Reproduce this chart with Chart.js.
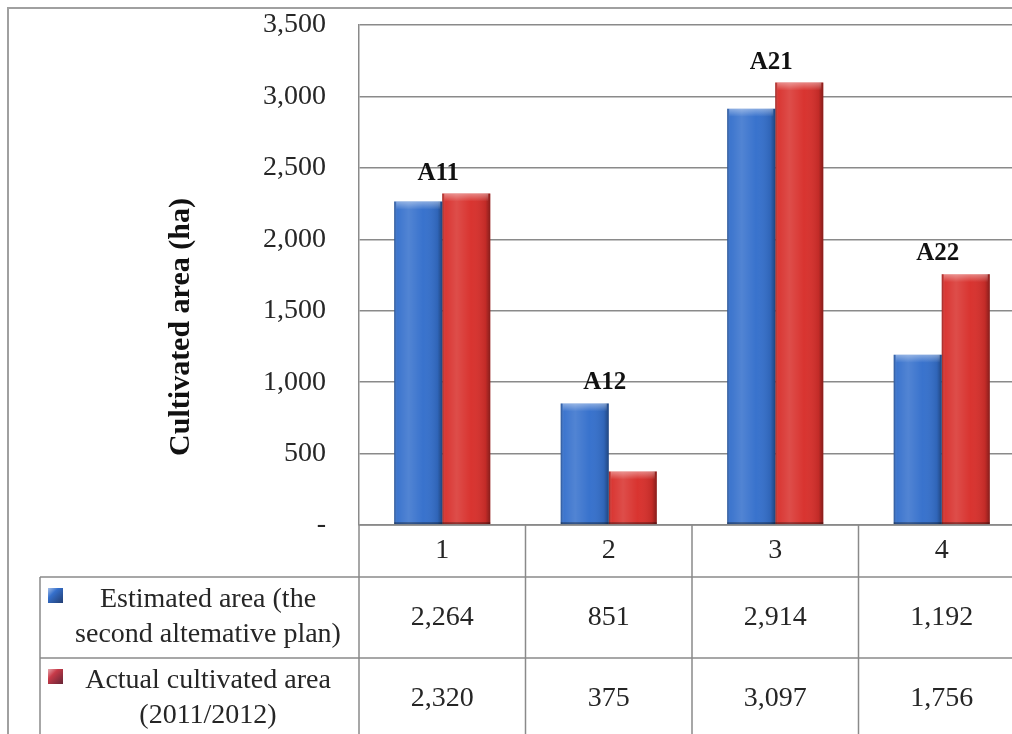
<!DOCTYPE html>
<html>
<head>
<meta charset="utf-8">
<script src="https://cdn.jsdelivr.net/npm/chart.js@4.4.1/dist/chart.umd.min.js"></script>
<style>
  html, body { margin: 0; padding: 0; background: #fff; overflow: hidden; width: 1012px; height: 734px; }
  #wrap { position: absolute; left: 0; top: 0; width: 1040px; height: 734px; }
</style>
</head>
<body>
<div id="wrap"><canvas id="c" width="1040" height="734"></canvas></div>
<script>
// ---- data ----
const categories = ['1', '2', '3', '4'];
const estimatedArea = [2264, 851, 2914, 1192];
const actualArea = [2320, 375, 3097, 1756];
const barLabels = ['A11', 'A12', 'A21', 'A22'];
const estimatedName = ['Estimated area (the', 'second altemative plan)'];
const actualName = ['Actual cultivated area', '(2011/2012)'];
const axisTitle = 'Cultivated area (ha)';
const yMin = 0, yMax = 3500, yStep = 500;

// ---- look ----
const SERIF = "'Liberation Serif', 'Times New Roman', serif";
const TEXT = '#262626';
const LINE = '#8a8a8a';
const BLUE = '#3570cc';
const RED = '#d8302c';

const fmt = v => v === 0 ? '-' : v.toLocaleString('en-US');

// bevel-like shading on top of each bar, plus the series codes above each group
const barShading = {
  id: 'barShading',
  afterDatasetsDraw(chart) {
    const ctx = chart.ctx;
    ctx.save();
    chart.data.datasets.forEach((ds, di) => {
      const meta = chart.getDatasetMeta(di);
      meta.data.forEach(el => {
        const p = el.getProps(['x', 'y', 'base', 'width'], true);
        const l = p.x - p.width / 2, t = p.y, h = p.base - p.y, w = p.width;
        let g = ctx.createLinearGradient(l, 0, l + w, 0);
        g.addColorStop(0, 'rgba(0,0,0,0.30)');
        g.addColorStop(0.07, 'rgba(255,255,255,0.04)');
        g.addColorStop(0.3, 'rgba(255,255,255,0.14)');
        g.addColorStop(0.6, 'rgba(255,255,255,0.02)');
        g.addColorStop(0.9, 'rgba(0,0,0,0.10)');
        g.addColorStop(1, 'rgba(0,0,0,0.38)');
        ctx.fillStyle = g;
        ctx.fillRect(l, t, w, h);
        const cap = Math.min(8, h / 2);
        g = ctx.createLinearGradient(0, t, 0, t + cap);
        g.addColorStop(0, 'rgba(255,255,255,0.40)');
        g.addColorStop(1, 'rgba(255,255,255,0)');
        ctx.fillStyle = g;
        ctx.fillRect(l + 2, t, w - 4, cap);
        ctx.fillStyle = 'rgba(0,0,0,0.35)';
        ctx.fillRect(l, p.base - 2, w, 2);
      });
    });
    // group codes
    const xs = chart.scales.x, ys = chart.scales.y;
    ctx.fillStyle = '#111';
    ctx.font = 'bold 25px ' + SERIF;
    ctx.textAlign = 'center';
    ctx.textBaseline = 'bottom';
    barLabels.forEach((lab, i) => {
      const top = Math.max(estimatedArea[i], actualArea[i]);
      ctx.fillText(lab, xs.getPixelForValue(i) - 4, ys.getPixelForValue(top) - 8);
    });
    ctx.restore();
  }
};

// outer frame, data table under the plot, and the rotated axis title
const frameAndTable = {
  id: 'frameAndTable',
  beforeDraw(chart) {
    const ctx = chart.ctx;
    ctx.save();
    ctx.fillStyle = '#fff';
    ctx.fillRect(0, 0, chart.width, chart.height);
    ctx.strokeStyle = '#a0a0a0';
    ctx.lineWidth = 2;
    ctx.strokeRect(8, 8, chart.width + 50, chart.height + 50);
    ctx.restore();
  },
  afterDraw(chart) {
    const ctx = chart.ctx;
    const a = chart.chartArea;
    const n = categories.length;
    const cw = (a.right - a.left) / n;
    const headTop = a.bottom, headH = 52, rowH = 81;
    const row1 = headTop + headH, row2 = row1 + rowH, rowEnd = row2 + rowH;
    const legL = 40, farR = chart.width + 20;
    ctx.save();
    ctx.strokeStyle = LINE;
    ctx.lineWidth = 1.5;
    ctx.beginPath();
    ctx.moveTo(a.left, headTop); ctx.lineTo(farR, headTop);
    [row1, row2, rowEnd].forEach(y => { ctx.moveTo(legL, y); ctx.lineTo(farR, y); });
    ctx.moveTo(legL, row1); ctx.lineTo(legL, rowEnd);
    for (let i = 0; i <= n; i++) {
      const x = a.left + i * cw;
      ctx.moveTo(x, headTop); ctx.lineTo(x, rowEnd);
    }
    ctx.stroke();

    ctx.fillStyle = TEXT;
    ctx.font = '28px ' + SERIF;
    ctx.textAlign = 'center';
    ctx.textBaseline = 'middle';
    const xs = chart.scales.x;
    categories.forEach((c, i) => {
      const x = xs.getPixelForValue(i);
      ctx.fillText(c, x, headTop + headH / 2);
      ctx.fillText(fmt(estimatedArea[i]), x, row1 + rowH / 2);
      ctx.fillText(fmt(actualArea[i]), x, row2 + rowH / 2);
    });

    // series names with colour keys
    const rows = [[row1, estimatedName, BLUE], [row2, actualName, '#c83a48']];
    rows.forEach(([top, lines, col]) => {
      const kx = 48, ky = top + 11, ks = 15;
      const g = ctx.createLinearGradient(kx, ky, kx + ks, ky + ks);
      g.addColorStop(0, 'rgba(255,255,255,0.9)');
      g.addColorStop(0.35, col);
      g.addColorStop(1, 'rgba(20,20,40,0.9)');
      ctx.fillStyle = col;
      ctx.fillRect(kx, ky, ks, ks);
      ctx.fillStyle = g;
      ctx.globalAlpha = 0.6;
      ctx.fillRect(kx, ky, ks, ks);
      ctx.globalAlpha = 1;
      ctx.fillStyle = TEXT;
      ctx.font = '28px ' + SERIF;
      const cx = 208;
      ctx.fillText(lines[0], cx, top + rowH / 2 - 17.5);
      ctx.fillText(lines[1], cx, top + rowH / 2 + 17.5);
    });

    // axis title
    ctx.translate(181, 327);
    ctx.rotate(-Math.PI / 2);
    ctx.font = 'bold 30px ' + SERIF;
    ctx.fillStyle = '#111';
    ctx.fillText(axisTitle, 0, 0);
    ctx.restore();
  }
};

new Chart(document.getElementById('c'), {
  type: 'bar',
  data: {
    labels: categories,
    datasets: [
      { label: estimatedName.join(' '), data: estimatedArea, backgroundColor: BLUE, borderWidth: 0 },
      { label: actualName.join(' '), data: actualArea, backgroundColor: RED, borderWidth: 0 }
    ]
  },
  options: {
    responsive: false,
    animation: false,
    events: [],
    layout: { padding: { left: 0, top: 25, right: 15, bottom: 209 } },
    datasets: { bar: { categoryPercentage: 0.577, barPercentage: 1 } },
    plugins: {
      legend: { display: false },
      title: { display: false },
      tooltip: { enabled: false }
    },
    scales: {
      x: { display: false },
      y: {
        min: yMin, max: yMax,
        afterFit(scale) {
          scale.width = 359;
          scale.paddingTop = 0;
          scale.paddingBottom = 0;
        },
        ticks: {
          stepSize: yStep,
          padding: 33,
          color: TEXT,
          font: { family: SERIF, size: 28 },
          callback: v => fmt(v)
        },
        grid: { color: LINE, lineWidth: 1.5, drawTicks: false },
        border: { display: true, color: LINE, width: 1.5 }
      }
    }
  },
  plugins: [frameAndTable, barShading]
});
</script>
</body>
</html>
